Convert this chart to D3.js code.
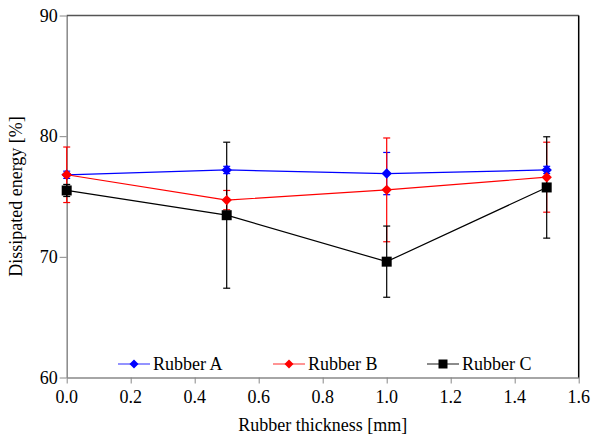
<!DOCTYPE html>
<html>
<head>
<meta charset="utf-8">
<script src="https://cdn.jsdelivr.net/npm/d3@7"></script>
</head>
<body style="margin:0; background:#fff">
<div id="chart"></div>
<script>
const thickness = [0, 0.5, 1.0, 1.5];
const rubberA = [76.8, 77.2, 76.9, 77.2];
const rubberAErr = [0.3, 0.3, 1.75, 0.3];
const rubberB = [76.8, 74.7, 75.55, 76.6];
const rubberBErr = [2.3, 0.8, 4.3, 2.9];
const rubberC = [75.5, 73.45, 69.6, 75.75];
const rubberCErr = [0.5, 6.05, 2.95, 4.2];
const xTicks = [0, 0.2, 0.4, 0.6, 0.8, 1.0, 1.2, 1.4, 1.6];
const yTicks = [60, 70, 80, 90];

const series = [
  { name: 'Rubber A', values: rubberA, err: rubberAErr, color: '#0000ff', shape: 'diamond', legendColor: '#6f6fff' },
  { name: 'Rubber B', values: rubberB, err: rubberBErr, color: '#ff0000', shape: 'diamond', legendColor: '#ff7070' },
  { name: 'Rubber C', values: rubberC, err: rubberCErr, color: '#000000', shape: 'square', legendColor: '#666666' }
];

const W = 593, H = 440;
const margin = { left: 66.7, right: 14.3, top: 15.5, bottom: 62.5 };
const width = W - margin.left - margin.right;
const height = H - margin.top - margin.bottom;
const fontName = 'Times New Roman';

const svg = d3.select('#chart').append('svg')
  .attr('width', W).attr('height', H);

// all text first, appended straight to the svg
const xScale = d3.scaleLinear().domain([0, 1.6]).range([margin.left, margin.left + width]);
const yScale = d3.scaleLinear().domain([60, 90]).range([margin.top + height, margin.top]);

svg.selectAll('text.xt').data(xTicks).enter().append('text').attr('class', 'xt')
  .attr('x', d => xScale(d)).attr('y', margin.top + height + 25)
  .attr('text-anchor', 'middle')
  .attr('font-family', fontName).attr('font-size', 18)
  .text(d3.format('.1f'));
svg.selectAll('text.yt').data(yTicks).enter().append('text').attr('class', 'yt')
  .attr('x', margin.left - 9).attr('y', d => yScale(d) + 6)
  .attr('text-anchor', 'end')
  .attr('font-family', fontName).attr('font-size', 18)
  .text(d => d);

svg.selectAll('text.title').data(['Rubber thickness [mm]']).enter().append('text').attr('class', 'title')
  .attr('x', margin.left + width / 2).attr('y', 431)
  .attr('text-anchor', 'middle')
  .attr('font-family', fontName).attr('font-size', 18)
  .text(d => d);
svg.selectAll('text.ytitle').data(['Dissipated energy [%]']).enter().append('text').attr('class', 'ytitle')
  .attr('transform', `translate(22,${margin.top + height / 2}) rotate(-90)`)
  .attr('text-anchor', 'middle')
  .attr('font-family', fontName).attr('font-size', 18)
  .text(d => d);

// axes (lines only, labels drawn above)
const xAxis = d3.axisBottom(xScale).tickValues(xTicks).tickSizeInner(6).tickSizeOuter(0).tickFormat('');
const yAxis = d3.axisLeft(yScale).tickValues(yTicks).tickSizeInner(7).tickSizeOuter(0).tickFormat('');

const gx = svg.append('g').attr('transform', `translate(0,${margin.top + height})`).call(xAxis);
const gy = svg.append('g').attr('transform', `translate(${margin.left},0)`).call(yAxis);
[gx, gy].forEach(a => {
  a.selectAll('text').remove();
  a.select('.domain').attr('stroke', '#888').attr('stroke-width', 1.5);
  a.selectAll('.tick line').attr('stroke', '#888');
});

// frame: top and right
svg.append('line').attr('x1', margin.left).attr('x2', margin.left + width)
  .attr('y1', margin.top).attr('y2', margin.top)
  .attr('stroke', '#555').attr('stroke-width', 1.5);
svg.append('line').attr('x1', margin.left + width).attr('x2', margin.left + width)
  .attr('y1', margin.top).attr('y2', margin.top + height)
  .attr('stroke', '#000').attr('stroke-width', 1.5);

const line = d3.line()
  .x((d, i) => xScale(thickness[i]))
  .y(d => yScale(d));

const diamond = s => `M0,${-s}L${s},0L0,${s}L${-s},0Z`;
const square = s => `M${-s},${-s}H${s}V${s}H${-s}Z`;
const markerPath = shape => shape === 'diamond' ? diamond(5.2) : square(5);

// error bars
series.forEach(s => {
  const eb = svg.append('g');
  s.values.forEach((v, i) => {
    const x = xScale(thickness[i]);
    const y0 = yScale(v - s.err[i]);
    const y1 = yScale(v + s.err[i]);
    eb.append('line').attr('x1', x).attr('x2', x).attr('y1', y0).attr('y2', y1)
      .attr('stroke', s.color).attr('stroke-width', 1.2);
    [y0, y1].forEach(y => {
      eb.append('line').attr('x1', x - 3.5).attr('x2', x + 3.5).attr('y1', y).attr('y2', y)
        .attr('stroke', s.color).attr('stroke-width', 1.2);
    });
  });
});

// lines and markers
series.forEach(s => {
  svg.append('path').datum(s.values)
    .attr('d', line).attr('fill', 'none')
    .attr('stroke', s.color).attr('stroke-width', 1.2);
  svg.append('g').selectAll('path').data(s.values).enter().append('path')
    .attr('d', markerPath(s.shape))
    .attr('transform', (d, i) => `translate(${xScale(thickness[i])},${yScale(d)})`)
    .attr('fill', s.color);
});

// legend
const legendX = [118, 273, 427];
const legendY = 364;
svg.selectAll('text.leg').data(series).enter().append('text').attr('class', 'leg')
  .attr('x', (d, i) => legendX[i] + 35).attr('y', legendY + 6)
  .attr('font-family', fontName).attr('font-size', 18)
  .text(d => d.name);
series.forEach((s, i) => {
  const lg = svg.append('g').attr('transform', `translate(${legendX[i]},${legendY})`);
  lg.append('line').attr('x1', 0).attr('x2', 32).attr('y1', 0).attr('y2', 0)
    .attr('stroke', s.legendColor).attr('stroke-width', 1.5);
  lg.append('path').attr('d', s.shape === 'diamond' ? diamond(4.5) : square(4.5))
    .attr('transform', 'translate(16,0)').attr('fill', s.color);
});
</script>
</body>
</html>
